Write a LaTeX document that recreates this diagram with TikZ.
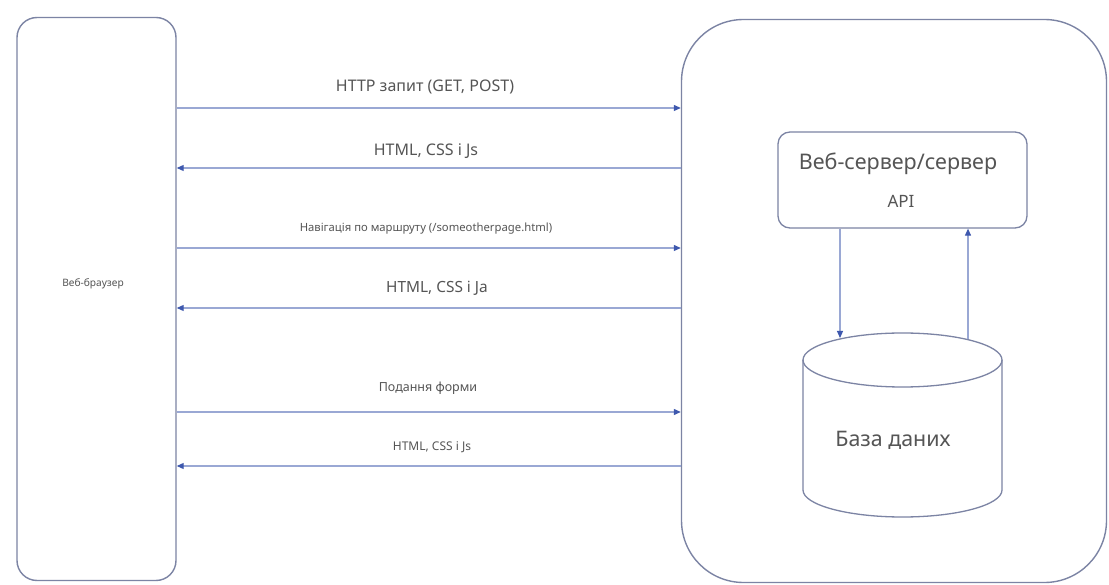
\documentclass[tikz,border=0pt]{standalone}
\usepackage{fontspec}
\setmainfont{Noto Sans}
\usetikzlibrary{arrows.meta,calc}

\definecolor{boxline}{HTML}{7C84A4}
\definecolor{flowline}{HTML}{9AA8D4}
\definecolor{tipblue}{HTML}{3E58AE}
\definecolor{txt}{HTML}{555555}

\tikzset{
  panel/.style={draw=boxline, line width=1.4pt, fill=white, rectangle},
  flow/.style={draw=flowline, line width=1.1pt,
    -{Triangle[length=7pt,width=6pt,fill=tipblue,color=tipblue]}},
  lbl/.style={text=txt, inner sep=0pt, anchor=center},
}

\begin{document}
\begin{tikzpicture}[x=1pt,y=-1pt]
  \useasboundingbox (0,0) rectangle (1109,585);
  \fill[white] (0,0) rectangle (1109,585);

  % client and server panels
  \node[panel, rounded corners=20pt, minimum width=159pt, minimum height=563pt]
    (browser) at (96.5,299) {};
  \node[lbl, font=\fontsize{10.2}{12}\selectfont] (browserlbl) at (93,284) {Веб-браузер};

  \node[panel, rounded corners=62pt, minimum width=425pt, minimum height=563pt]
    (server) at (894,301) {};

  % web server / API box
  \node[panel, line width=1.3pt, rounded corners=12pt, minimum width=249pt, minimum height=96pt]
    (web) at (902.5,180) {};
  \node[lbl, font=\fontsize{21.5}{25}\selectfont] (webttl) at (898,164) {Веб-сервер/сервер};
  \node[lbl, font=\fontsize{17}{20}\selectfont] (webapi) at (901,201) {API};

  % database cylinder
  \draw[boxline, line width=1.3pt, fill=white]
    (803,360) -- (803,490) arc[start angle=180, end angle=0, x radius=99.5, y radius=27]
    -- (1002,360) arc[start angle=0, end angle=-180, x radius=99.5, y radius=27] -- cycle;
  \draw[boxline, line width=1.3pt]
    (803,360) arc[start angle=180, end angle=0, x radius=99.5, y radius=27];
  \node[inner sep=0pt, minimum width=199pt, minimum height=184pt] (db) at (902.5,425) {};
  \node[lbl, font=\fontsize{21.4}{25}\selectfont] (dblbl) at (893,440) {База даних};
  \coordinate (dbin) at (840,338);
  \coordinate (dbout) at (968,339);

  % request / response flows
  \draw[flow] (browser.east |- 0,108) -- (server.west |- 0,108);
  \draw[flow] (server.west |- 0,168) -- (browser.east |- 0,168);
  \draw[flow] (browser.east |- 0,248) -- (server.west |- 0,248);
  \draw[flow] (server.west |- 0,308) -- (browser.east |- 0,308);
  \draw[flow] (browser.east |- 0,412) -- (server.west |- 0,412);
  \draw[flow] (server.west |- 0,466) -- (browser.east |- 0,466);

  \node[lbl, font=\fontsize{16}{19}\selectfont] (l1) at (425,87) {HTTP запит (GET, POST)};
  \node[lbl, font=\fontsize{16}{19}\selectfont] (l2) at (426,151) {HTML, CSS і Js};
  \node[lbl, font=\fontsize{11.3}{13}\selectfont] (l3) at (426,229) {Навігація по маршруту (/someotherpage.html)};
  \node[lbl, font=\fontsize{15.4}{18}\selectfont] (l4) at (437,288) {HTML, CSS і Ja};
  \node[lbl, font=\fontsize{12.5}{15}\selectfont] (l5) at (428,388) {Подання форми};
  \node[lbl, font=\fontsize{12}{14}\selectfont] (l6) at (432,447) {HTML, CSS і Js};

  % server internals
  \draw[flow] (web.south -| dbin) -- (dbin);
  \draw[flow] (dbout) -- (web.south -| dbout);
\end{tikzpicture}
\end{document}
